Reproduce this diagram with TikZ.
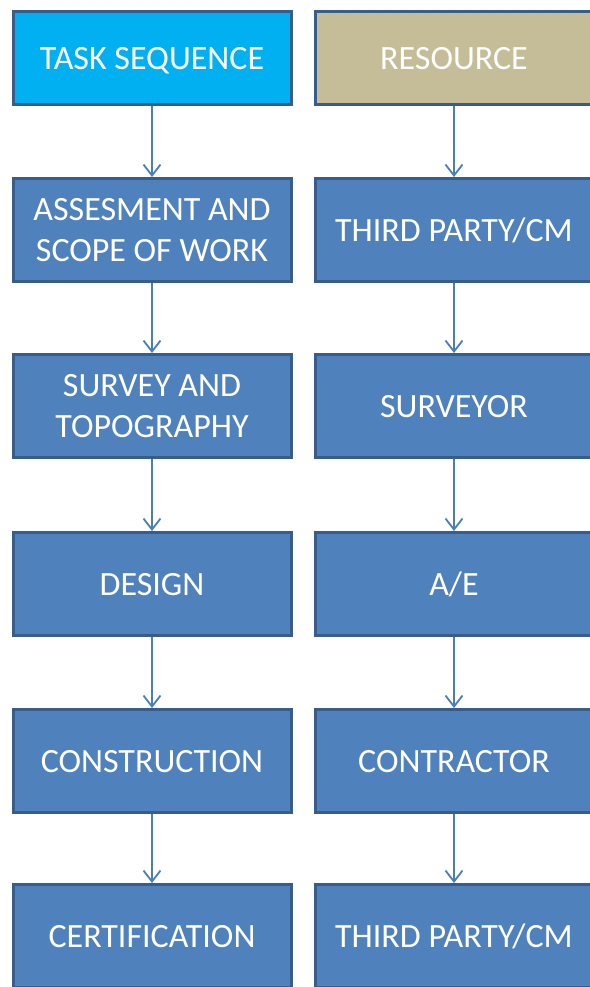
\documentclass[tikz,border=0pt]{standalone}
\usepackage{fontspec}
\setmainfont{Carlito}
\usetikzlibrary{arrows.meta}
\definecolor{boxfill}{RGB}{79,129,189}
\definecolor{boxline}{RGB}{56,93,138}
\definecolor{taskfill}{RGB}{0,176,240}
\definecolor{resfill}{RGB}{196,189,151}
\definecolor{linkcol}{RGB}{74,126,187}
\begin{document}
\begin{tikzpicture}[x=1pt, y=-1pt,
    >={Straight Barb[length=11pt,width=17pt]},
    stage/.style={draw=boxline, line width=3pt, fill=boxfill, text=white,
      minimum width=278pt, minimum height=103pt, inner sep=0pt, align=center,
      text depth=0pt, font=\fontsize{34}{41}\selectfont},
    link/.style={->, draw=linkcol, line width=1.8pt}]
  \def\lx{152}
  \def\rx{454}
  \useasboundingbox (0,0) rectangle (589,987);
  %headers
  \node[stage, fill=taskfill, minimum height=93pt] (task) at (\lx,58) {TASK SEQUENCE};
  \node[stage, fill=resfill, minimum height=93pt] (res) at (\rx,58) {RESOURCE};
  %task column
  \node[stage] (scope) at (\lx,230) {ASSESMENT AND\\SCOPE OF WORK};
  \node[stage] (survey) at (\lx,406) {SURVEY AND\\TOPOGRAPHY};
  \node[stage] (design) at (\lx,584) {DESIGN};
  \node[stage] (build) at (\lx,761) {CONSTRUCTION};
  \node[stage] (cert) at (\lx,936) {CERTIFICATION};
  %resource column
  \node[stage] (cm) at (\rx,230) {THIRD PARTY/CM};
  \node[stage] (surveyor) at (\rx,406) {SURVEYOR};
  \node[stage] (ae) at (\rx,584) {A/E};
  \node[stage] (contractor) at (\rx,761) {CONTRACTOR};
  \node[stage] (cmcert) at (\rx,936) {THIRD PARTY/CM};

  \draw[link] (task.south) -- (scope.north);
  \draw[link] (scope.south) -- (survey.north);
  \draw[link] (survey.south) -- (design.north);
  \draw[link] (design.south) -- (build.north);
  \draw[link] (build.south) -- (cert.north);

  \draw[link] (res.south) -- (cm.north);
  \draw[link] (cm.south) -- (surveyor.north);
  \draw[link] (surveyor.south) -- (ae.north);
  \draw[link] (ae.south) -- (contractor.north);
  \draw[link] (contractor.south) -- (cmcert.north);
\end{tikzpicture}
\end{document}
